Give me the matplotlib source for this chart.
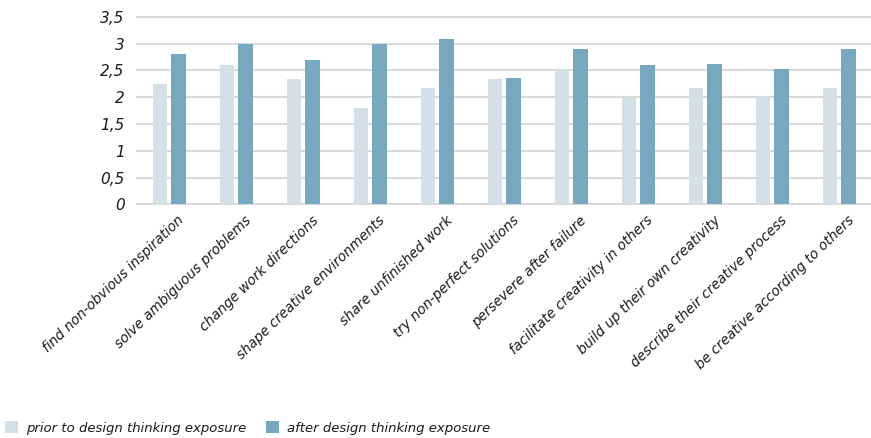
import numpy as np
import matplotlib
matplotlib.use("Agg")
import matplotlib.pyplot as plt

categories = [
    "find non-obvious inspiration",
    "solve ambiguous problems",
    "change work directions",
    "shape creative environments",
    "share unfinished work",
    "try non-perfect solutions",
    "persevere after failure",
    "facilitate creativity in others",
    "build up their own creativity",
    "describe their creative process",
    "be creative according to others",
]
prior = [2.25, 2.6, 2.33, 1.8, 2.17, 2.34, 2.5, 1.98, 2.17, 2.0, 2.17]
after = [2.8, 3.0, 2.7, 3.0, 3.09, 2.35, 2.9, 2.6, 2.62, 2.52, 2.9]
y_ticks = [0, 0.5, 1, 1.5, 2, 2.5, 3, 3.5]
y_labels = ["0", "0,5", "1", "1,5", "2", "2,5", "3", "3,5"]
series_names = ["prior to design thinking exposure", "after design thinking exposure"]

c_prior = "#d3e0e8"
c_after = "#78a7c0"

plt.rcParams["font.family"] = ["DejaVu Sans"]
plt.rcParams["font.style"] = "italic"

fig = plt.figure(figsize=(8.71, 4.38), dpi=100)
ax = fig.add_axes([0.156, 0.532, 0.846, 0.431])

x = np.arange(len(categories))
w = 0.22
ax.bar(x - 0.14, prior, width=w, color=c_prior, label=series_names[0], zorder=3)
ax.bar(x + 0.14, after, width=w, color=c_after, label=series_names[1], zorder=3)

ax.set_xlim(-0.5, len(categories) - 0.5)
ax.set_ylim(-0.01, 3.51)
ax.set_yticks(y_ticks)
ax.set_yticklabels(y_labels, fontsize=11, color="#1a1a1a")
ax.yaxis.grid(True, color="#d9d9d9", linewidth=1.5, zorder=0)
ax.set_axisbelow(True)
for s in ax.spines.values():
    s.set_visible(False)
ax.tick_params(axis="both", length=0)
ax.tick_params(axis="y", pad=8)

ax.set_xticks(x + 0.12)
ax.set_xticklabels(categories, rotation=44, ha="right", rotation_mode="anchor",
                   fontsize=9.8, color="#1a1a1a")
ax.tick_params(axis="x", pad=6)

fig.legend(loc="lower left", bbox_to_anchor=(-0.008, -0.02), ncol=2, frameon=False,
           fontsize=9.5, handlelength=1.0, handleheight=1.0, handletextpad=0.6,
           columnspacing=1.5, labelcolor="#1a1a1a")

fig.savefig("out.png", dpi=100)
